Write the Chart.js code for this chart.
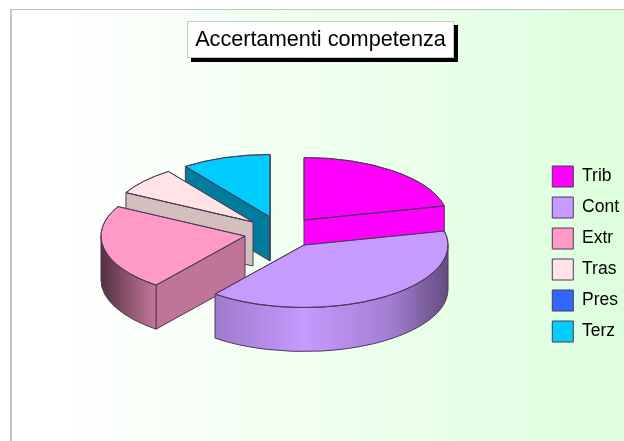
<!DOCTYPE html>
<html>
<head>
<meta charset="utf-8">
<title>Accertamenti competenza</title>
<script src="https://cdn.jsdelivr.net/npm/chart.js@4"></script>
<style>
    html, body { margin: 0; padding: 0; background: #fff; }
    canvas { display: block; }
</style>
</head>
<body>
<canvas id="pie3d" width="624" height="441"></canvas>
<script>
const chartTitle = 'Accertamenti competenza';
const categories = ['Trib', 'Cont', 'Extr', 'Tras', 'Pres', 'Terz'];
const shares = [21.4, 39.2, 22.2, 7.2, 0, 10];
const topColors = ['#FF00FF', '#C79AFF', '#FF99C8', '#FFE3E6', '#3366FF', '#00CCFF'];
const cutColors = ['#FF00FF', '#A57FD8', '#C0749A', '#D4BEBE', '#2A50C0', '#007C9C'];

// how far each slice is pulled out of the pie, in px
const explodeX = [19, 19, -40, -32, 0, -15];
const explodeY = [-12, 13, 4, -10, 0, -15];
// back slices first so the front ones cover them
const paintOrder = [5, 3, 0, 2, 1];

const PIE_X = 285;
const PIE_Y = 232;
const SQUASH = 0.434;
const DEPTH = 44;
const EDGE = '#4a3a55';

function shade(hex, f) {
    const n = parseInt(hex.slice(1), 16);
    const c = [n >> 16, (n >> 8) & 255, n & 255].map(v => Math.round(v * f));
    return 'rgb(' + c.join(',') + ')';
}

// Extruded pie: cut faces, outer wall, then the library's own arc squashed on top
const pie3d = {
    id: 'pie3d',
    beforeDraw(chart) {
        const ctx = chart.ctx;
        const g = ctx.createLinearGradient(11, 0, 624, 0);
        g.addColorStop(0, '#ffffff');
        g.addColorStop(0.07, '#ffffff');
        g.addColorStop(1, '#ddffdd');
        ctx.fillStyle = g;
        ctx.fillRect(11, 10, 613, 431);
        ctx.fillStyle = '#c4c4c4';
        ctx.fillRect(10, 9, 614, 1);
        ctx.fillRect(10, 9, 2, 432);

        // title box, the title text itself is drawn by the title plugin
        ctx.fillStyle = '#000';
        ctx.fillRect(191, 25, 267, 37);
        ctx.fillStyle = '#fff';
        ctx.fillRect(187, 21, 267, 37);
        ctx.strokeStyle = '#c8c8c8';
        ctx.strokeRect(187.5, 21.5, 266, 36);
    },
    beforeDatasetDraw() {
        return false;
    },
    afterDatasetsDraw(chart) {
        const ctx = chart.ctx;
        const arcs = chart.getDatasetMeta(0).data;
        paintOrder.forEach(i => {
            const arc = arcs[i];
            const cx = PIE_X + explodeX[i];
            const cy = PIE_Y + explodeY[i];
            const rx = arc.outerRadius;
            const ry = rx * SQUASH;

            ctx.save();
            ctx.lineWidth = 1;
            ctx.lineJoin = 'round';
            ctx.strokeStyle = EDGE;

            // cut faces, skip the ones turned away from the viewer
            const faces = [];
            if (Math.cos(arc.startAngle) < 0) faces.push(arc.startAngle);
            if (Math.cos(arc.endAngle) > 0) faces.push(arc.endAngle);
            faces.forEach(a => {
                const ex = cx + Math.cos(a) * rx;
                const ey = cy + Math.sin(a) * ry;
                ctx.beginPath();
                ctx.moveTo(cx, cy);
                ctx.lineTo(ex, ey);
                ctx.lineTo(ex, ey + DEPTH);
                ctx.lineTo(cx, cy + DEPTH);
                ctx.closePath();
                ctx.fillStyle = cutColors[i];
                ctx.fill();
                ctx.stroke();
            });

            // outer wall, only the front half of the ellipse shows
            const a0 = Math.max(arc.startAngle, 0);
            const a1 = Math.min(arc.endAngle, Math.PI);
            if (a1 > a0) {
                const wall = ctx.createLinearGradient(cx - rx, 0, cx + rx, 0);
                wall.addColorStop(0, shade(topColors[i], 0.32));
                wall.addColorStop(0.2, shade(topColors[i], 0.8));
                wall.addColorStop(0.5, shade(topColors[i], 1));
                wall.addColorStop(0.8, shade(topColors[i], 0.82));
                wall.addColorStop(1, shade(topColors[i], 0.5));
                ctx.beginPath();
                ctx.ellipse(cx, cy, rx, ry, 0, a0, a1);
                ctx.ellipse(cx, cy + DEPTH, rx, ry, 0, a1, a0, true);
                ctx.closePath();
                ctx.fillStyle = wall;
                ctx.fill();
                ctx.stroke();
            }

            // top face
            ctx.save();
            ctx.translate(cx, cy);
            ctx.scale(1, SQUASH);
            ctx.translate(-arc.x, -arc.y);
            arc.draw(ctx);
            ctx.restore();
            ctx.beginPath();
            ctx.moveTo(cx, cy);
            ctx.ellipse(cx, cy, rx, ry, 0, arc.startAngle, arc.endAngle);
            ctx.closePath();
            ctx.stroke();
            ctx.restore();
        });
    }
};

new Chart(document.getElementById('pie3d'), {
    type: 'pie',
    plugins: [pie3d],
    data: {
        labels: categories,
        datasets: [{
            data: shares,
            backgroundColor: topColors,
            borderColor: EDGE,
            borderWidth: 1,
            radius: 144
        }]
    },
    options: {
        responsive: false,
        animation: false,
        layout: { padding: { left: 12, right: -5, top: 0, bottom: 0 } },
        plugins: {
            tooltip: { enabled: false },
            title: {
                display: true,
                text: chartTitle,
                color: '#000',
                font: { family: '"Liberation Sans"', size: 21.7, weight: 'normal' },
                padding: { top: 27, bottom: 14 }
            },
            legend: {
                position: 'right',
                fullSize: false,
                labels: {
                    color: '#000',
                    font: { family: '"Liberation Sans"', size: 17.5 },
                    boxWidth: 21,
                    boxHeight: 21,
                    padding: 10
                }
            }
        }
    }
});
</script>
</body>
</html>
